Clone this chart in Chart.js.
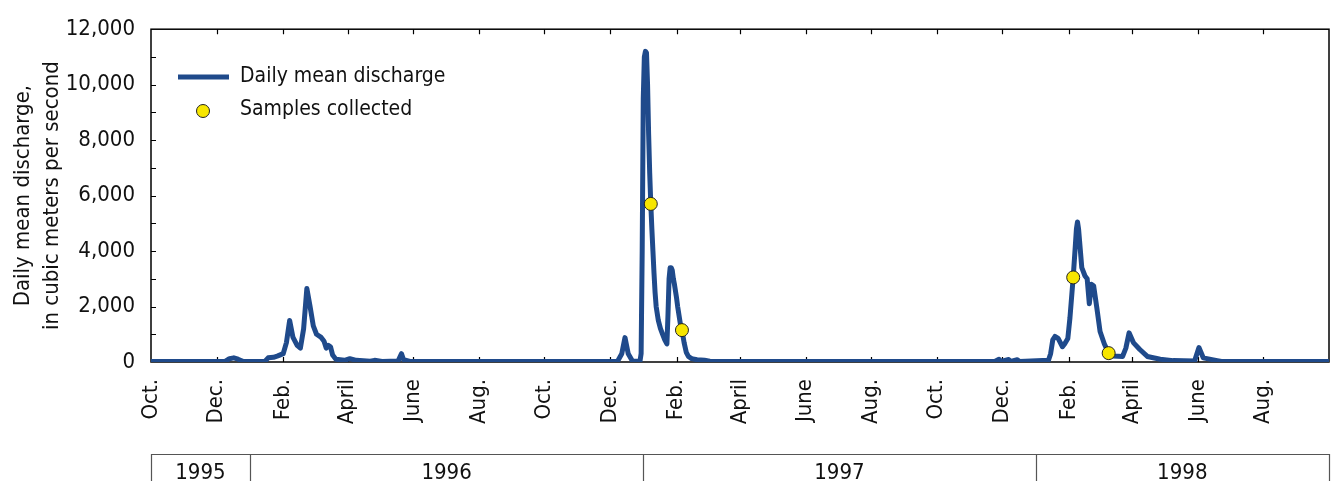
<!DOCTYPE html>
<html>
<head>
<meta charset="utf-8">
<script src="https://cdn.jsdelivr.net/npm/chart.js@4.4.1/dist/chart.umd.min.js"></script>
<style>
  html, body { margin: 0; padding: 0; background: #fff; }
</style>
</head>
<body>
<canvas id="flowChart" width="1338" height="481"></canvas>
<script>
const FONT = "'Liberation Sans Narrow', 'DejaVu Sans Condensed', 'Liberation Sans', sans-serif";
const BLUE = "#1f4a8b";

// daily mean discharge (m3/s)
const flowDates = [
  "1995-10-01", "1995-12-09", "1995-12-13", "1995-12-17", "1995-12-21", "1995-12-26",
  "1996-01-15", "1996-01-18", "1996-01-23", "1996-01-27", "1996-02-01", "1996-02-04",
  "1996-02-07", "1996-02-10", "1996-02-14", "1996-02-17", "1996-02-20", "1996-02-23",
  "1996-02-26", "1996-02-29", "1996-03-03", "1996-03-07", "1996-03-10", "1996-03-12",
  "1996-03-14", "1996-03-16", "1996-03-18", "1996-03-21", "1996-03-29", "1996-04-03",
  "1996-04-09", "1996-04-22", "1996-04-26", "1996-05-03", "1996-05-18", "1996-05-21",
  "1996-05-23", "1996-05-29",
  "1996-12-08", "1996-12-12", "1996-12-15", "1996-12-18", "1996-12-22", "1996-12-29",
  "1996-12-30", "1996-12-31", "1997-01-01", "1997-01-02", "1997-01-03", "1997-01-04",
  "1997-01-05", "1997-01-06", "1997-01-07", "1997-01-08", "1997-01-09", "1997-01-10",
  "1997-01-11", "1997-01-12", "1997-01-13", "1997-01-15", "1997-01-17", "1997-01-19",
  "1997-01-21", "1997-01-23", "1997-01-24", "1997-01-25", "1997-01-26", "1997-01-27",
  "1997-01-28", "1997-01-29", "1997-01-30", "1997-02-01", "1997-02-02", "1997-02-04",
  "1997-02-05", "1997-02-06", "1997-02-08", "1997-02-10", "1997-02-12", "1997-02-15",
  "1997-02-20", "1997-02-27", "1997-03-04",
  "1997-11-24", "1997-11-28", "1997-11-30", "1997-12-07", "1997-12-09", "1997-12-15",
  "1997-12-17", "1998-01-13", "1998-01-15", "1998-01-17", "1998-01-19", "1998-01-22",
  "1998-01-26", "1998-01-28", "1998-01-31", "1998-02-02", "1998-02-05", "1998-02-07",
  "1998-02-08", "1998-02-09", "1998-02-10", "1998-02-13", "1998-02-16", "1998-02-18",
  "1998-02-20", "1998-02-22", "1998-02-24", "1998-02-27", "1998-03-02", "1998-03-06",
  "1998-03-10", "1998-03-14", "1998-03-23", "1998-03-26", "1998-03-29", "1998-04-02",
  "1998-04-08", "1998-04-15", "1998-04-27", "1998-05-09", "1998-05-29", "1998-06-02",
  "1998-06-06", "1998-06-19", "1998-06-23", "1998-09-30"
];
const flowValues = [
  20, 20, 120, 150, 100, 20,
  20, 150, 170, 220, 300, 700,
  1500, 900, 600, 500, 1200, 2650,
  2000, 1300, 1000, 900, 750, 500,
  600, 550, 250, 100, 60, 120,
  60, 30, 60, 20, 40, 300,
  80, 20,
  20, 300, 880, 300, 30, 40,
  300, 4000, 9500, 11000, 11200, 11150,
  10000, 8200, 6800, 5700, 4800, 4000,
  3200, 2500, 2000, 1500, 1200, 1000,
  800, 650, 1700, 3000, 3400, 3400,
  3300, 3000, 2800, 2300, 2000, 1500,
  1250, 1150, 700, 350, 200, 120,
  80, 60, 30,
  20, 100, 20, 90, 20, 80,
  20, 60, 300, 800, 920, 850,
  550, 650, 850, 1600, 3050, 4200,
  4800, 5050, 4800, 3400, 3100, 3000,
  2100, 2800, 2750, 1950, 1100, 650,
  320, 220, 200, 500, 1050, 700,
  450, 200, 100, 50, 40, 520,
  150, 50, 20, 20
];

const sampleDates = ["1997-01-08", "1997-02-06", "1998-02-05", "1998-03-10"];
const sampleValues = [5700, 1150, 3050, 320];

const tickDates = [
  "1995-10-01", "1995-12-01", "1996-02-01", "1996-04-01", "1996-06-01", "1996-08-01",
  "1996-10-01", "1996-12-01", "1997-02-01", "1997-04-01", "1997-06-01", "1997-08-01",
  "1997-10-01", "1997-12-01", "1998-02-01", "1998-04-01", "1998-06-01", "1998-08-01"
];
const tickLabels = [
  "Oct.", "Dec.", "Feb.", "April", "June", "Aug.",
  "Oct.", "Dec.", "Feb.", "April", "June", "Aug.",
  "Oct.", "Dec.", "Feb.", "April", "June", "Aug."
];

const yearLabels = ["1995", "1996", "1997", "1998"];
const yearBounds = ["1995-10-01", "1996-01-01", "1997-01-01", "1998-01-01", "1998-10-01"];

const START = Date.UTC(1995, 9, 1);
function dayOf(s) {
  const [y, m, d] = s.split("-").map(Number);
  return (Date.UTC(y, m - 1, d) - START) / 86400000;
}

const flowPoints = flowDates.map((d, i) => ({ x: dayOf(d), y: flowValues[i] }));
const samplePoints = sampleDates.map((d, i) => ({ x: dayOf(d), y: sampleValues[i] }));
const tickDays = tickDates.map(dayOf);

const framePlugin = {
  id: "frame",
  beforeDatasetsDraw(chart) {
    const { ctx, chartArea: a, scales: { x, y } } = chart;
    ctx.save();
    ctx.strokeStyle = "#000";
    ctx.lineWidth = 1.5;
    ctx.strokeRect(a.left, a.top, a.right - a.left, a.bottom - a.top);
    ctx.lineWidth = 1.2;
    ctx.beginPath();
    for (let v = 1000; v < 12000; v += 1000) {
      const py = Math.round(y.getPixelForValue(v)) + 0.5;
      ctx.moveTo(a.left, py);
      ctx.lineTo(a.left + 5, py);
    }
    tickDays.forEach((d, i) => {
      if (i === 0) return;
      const px = Math.round(x.getPixelForValue(d)) + 0.5;
      ctx.moveTo(px, a.top);
      ctx.lineTo(px, a.top + 5);
      ctx.moveTo(px, a.bottom);
      ctx.lineTo(px, a.bottom - 5);
    });
    ctx.stroke();
    ctx.restore();
  },
  afterDraw(chart) {
    const { ctx, chartArea: a, scales: { x } } = chart;
    ctx.save();
    // legend
    ctx.strokeStyle = BLUE;
    ctx.lineWidth = 5;
    ctx.beginPath();
    ctx.moveTo(178, 77);
    ctx.lineTo(229, 77);
    ctx.stroke();
    ctx.beginPath();
    ctx.arc(203, 111, 6.5, 0, Math.PI * 2);
    ctx.fillStyle = "#f7e600";
    ctx.fill();
    ctx.lineWidth = 1;
    ctx.strokeStyle = "#222";
    ctx.stroke();
    ctx.fillStyle = "#111";
    ctx.font = "21px " + FONT;
    ctx.textBaseline = "middle";
    ctx.textAlign = "left";
    ctx.fillText("Daily mean discharge", 240, 77);
    ctx.fillText("Samples collected", 240, 110);

    // water-year band
    const top = 454;
    ctx.strokeStyle = "#555";
    ctx.lineWidth = 1.2;
    ctx.beginPath();
    ctx.moveTo(a.left, top + 0.5);
    ctx.lineTo(a.right, top + 0.5);
    const px = yearBounds.map(d => x.getPixelForValue(dayOf(d)));
    px.forEach(p => {
      const q = Math.round(p) + 0.5;
      ctx.moveTo(q, top);
      ctx.lineTo(q, 481);
    });
    ctx.stroke();
    ctx.fillStyle = "#111";
    ctx.font = "22px " + FONT;
    ctx.textAlign = "center";
    ctx.textBaseline = "alphabetic";
    yearLabels.forEach((t, i) => {
      ctx.fillText(t, (px[i] + px[i + 1]) / 2, 479);
    });
    ctx.restore();
  }
};

new Chart(document.getElementById("flowChart"), {
  type: "line",
  data: {
    datasets: [
      {
        label: "Samples collected",
        type: "scatter",
        data: samplePoints,
        pointRadius: 6.5,
        pointBackgroundColor: "#f7e600",
        pointBorderColor: "#222",
        pointBorderWidth: 1,
        showLine: false
      },
      {
        label: "Daily mean discharge",
        data: flowPoints,
        borderColor: BLUE,
        borderWidth: 5,
        borderJoinStyle: "round",
        borderCapStyle: "round",
        pointRadius: 0,
        tension: 0,
        fill: false
      }
    ]
  },
  options: {
    responsive: false,
    animation: false,
    devicePixelRatio: 1,
    locale: "en-US",
    layout: { padding: { top: 22, right: 9, left: 0, bottom: 0 } },
    plugins: { legend: { display: false }, tooltip: { enabled: false } },
    scales: {
      x: {
        type: "linear",
        min: 0,
        max: dayOf("1998-10-01"),
        grid: { display: false, drawTicks: false },
        border: { display: false },
        afterBuildTicks: s => { s.ticks = tickDays.map(v => ({ value: v })); },
        afterFit: s => { s.height = 119; },
        ticks: {
          autoSkip: false,
          minRotation: 90,
          maxRotation: 90,
          padding: 17,
          color: "#111",
          font: { family: FONT, size: 22 },
          callback: (v, i) => tickLabels[i]
        }
      },
      y: {
        min: 0,
        max: 12000,
        grid: { display: false, drawTicks: false },
        border: { display: false },
        afterFit: s => { s.width = 151; },
        ticks: {
          stepSize: 2000,
          padding: 16,
          color: "#111",
          font: { family: FONT, size: 22 }
        },
        title: {
          display: true,
          text: ["Daily mean discharge,", "in cubic meters per second"],
          color: "#111",
          font: { family: FONT, size: 22, lineHeight: 1.35 },
          padding: { top: 8, bottom: 0 }
        }
      }
    }
  },
  plugins: [framePlugin]
});
</script>
</body>
</html>
